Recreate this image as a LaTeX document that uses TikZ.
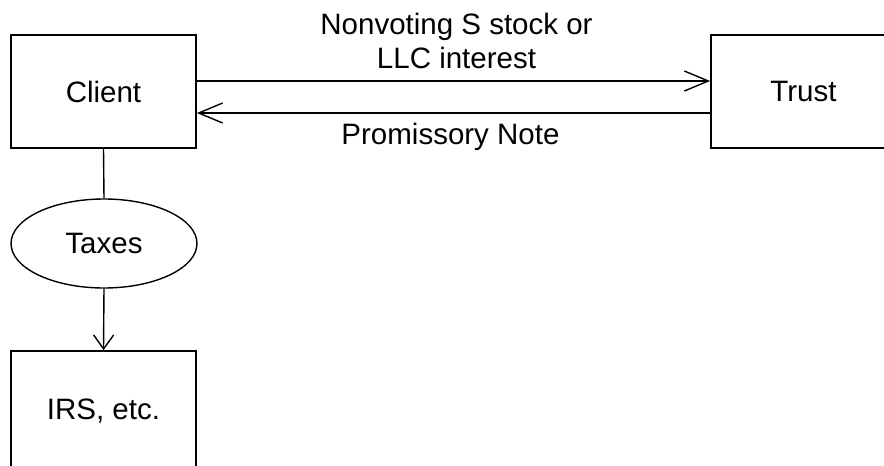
\documentclass[tikz,border=0pt]{standalone}
\usepackage{fontspec}
\setmainfont{Liberation Sans}
\usetikzlibrary{shapes.geometric, arrows.meta, positioning}
\definecolor{flowblack}{RGB}{0, 0, 0}
\tikzset{
  partybox/.style={rectangle, draw=flowblack, line width=1.7pt, fill=white,
                   minimum width=185pt, minimum height=#1, inner sep=0pt,
                   font=\fontsize{29.5}{34}\selectfont},
  partybox/.default=113pt,
  taxoval/.style={ellipse, draw=flowblack, line width=1.4pt, fill=white,
                  minimum width=186pt, minimum height=89pt, inner sep=0pt,
                  font=\fontsize{29.5}{34}\selectfont},
  flowline/.style={line width=1.4pt, color=flowblack},
  arrow/.style={-{Straight Barb[length=24pt, width=20pt]}, flowline},
  flowlabel/.style={inner sep=0pt, align=center, font=\fontsize{29.5}{34}\selectfont},
}

\begin{document}
\begin{tikzpicture}[x=1pt, y=-1pt]
        \path[use as bounding box, clip] (0,0) rectangle (884,466);
        % parties
        \node[partybox] (client) at (103.5,91.5) {Client};
        \node[partybox] (trust) at (803.5,91.5) {Trust};
        \node[taxoval] (taxes) at (104,243.5) {Taxes};
        \node[partybox=120pt] (irs) at (103.5,411) {IRS, etc.};
        % sale and note
        \draw[arrow] ([yshift=10.5pt]client.east) -- ([yshift=10.5pt]trust.west)
             node[flowlabel, midway, above=12pt, xshift=3pt] {Nonvoting S stock or\\LLC interest};
        \draw[arrow] ([yshift=-21.5pt]trust.west) -- ([yshift=-21.5pt]client.east)
             node[flowlabel, midway, below=9pt, xshift=-3pt] {Promissory Note};
        % taxes
        \draw[flowline] (client.south) -- (taxes.north);
        \draw[arrow, -{Straight Barb[length=14pt, width=20pt]}] (taxes.south) -- (irs.north);
      \end{tikzpicture}
\end{document}
